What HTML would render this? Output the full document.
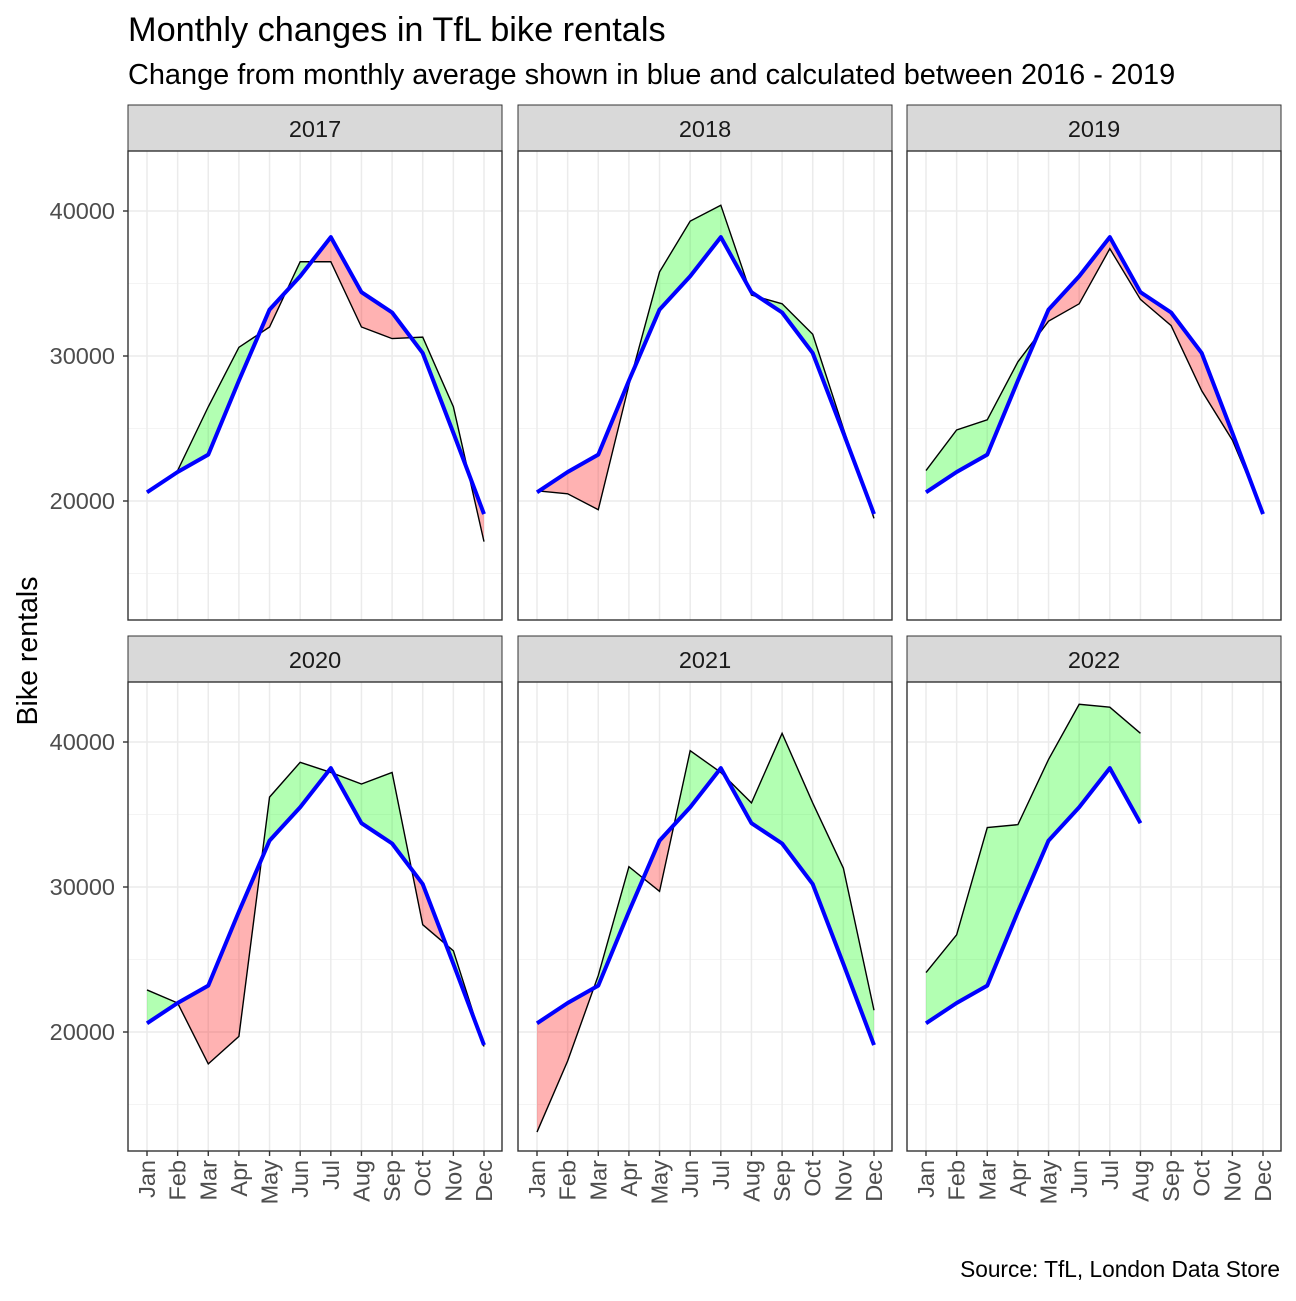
<!DOCTYPE html>
<html><head><meta charset="utf-8"><style>
body{margin:0;background:#fff}
svg{font-family:"Liberation Sans",Arial,sans-serif}
</style></head><body>
<svg id="chart" width="1296" height="1296" viewBox="0 0 1296 1296">
<text x="128" y="41" font-size="34.3" fill="#000">Monthly changes in TfL bike rentals</text>
<text x="128" y="84" font-size="28.9" fill="#000">Change from monthly average shown in blue and calculated between 2016 - 2019</text>
<text transform="translate(37,651) rotate(-90)" text-anchor="middle" font-size="28.5" fill="#000">Bike rentals</text>
<text x="1280" y="1277" text-anchor="end" font-size="22.7" fill="#000">Source: TfL, London Data Store</text>
<g id="panels"></g>
</svg>
<script>
const months = ["Jan","Feb","Mar","Apr","May","Jun","Jul","Aug","Sep","Oct","Nov","Dec"];
const years = ["2017","2018","2019","2020","2021","2022"];
const average = [20600,22000,23200,28300,33200,35500,38200,34400,33000,30200,24700,19100];
const y2017 = [20600,22100,26500,30600,32000,36500,36500,32000,31200,31300,26500,17200];
const y2018 = [20700,20500,19400,28000,35800,39300,40400,34200,33600,31500,25000,18800];
const y2019 = [22100,24900,25600,29600,32400,33600,37400,33900,32100,27600,24200,19200];
const y2020 = [22900,22000,17800,19700,36200,38600,37900,37100,37900,27400,25600,19000];
const y2021 = [13100,18000,23900,31400,29700,39400,37900,35800,40600,35800,31300,21500];
const y2022 = [24100,26700,34100,34300,38800,42600,42400,40600];
const yTicks = [20000,30000,40000];
const yMinor = [15000,25000,35000];

const series=[y2017,y2018,y2019,y2020,y2021,y2022];
const NS="http://www.w3.org/2000/svg";
const root=document.getElementById('panels');
const colX=[128,518,907], pw=374, rowY=[151,682], ph=469;
function mk(tag,attrs,parent){const e=document.createElementNS(NS,tag);for(const k in attrs)e.setAttribute(k,attrs[k]);parent.appendChild(e);return e;}
series.forEach((data,p)=>{
  const c=p%3,r=Math.floor(p/3);
  const x0=colX[c],y0=rowY[r];
  const g=mk('g',{},root);
  
  
  const xs=i=>x0+19+i*(337/11);
  const ys=v=>y0+60+(40000-v)*0.0145;
  const st=mk('rect',{x:x0,y:y0-46,width:pw,height:46,fill:'#d9d9d9',stroke:'#333','stroke-width':1},g);
  
  
  const stt=mk('text',{x:x0+pw/2,y:y0-14,'text-anchor':'middle','font-size':'23.5',fill:'#1a1a1a'},g);
  stt.textContent=years[p];
  
  
  yMinor.forEach(v=>mk('line',{x1:x0,x2:x0+pw,y1:ys(v),y2:ys(v),stroke:'#f4f4f4','stroke-width':1},g));
  yTicks.forEach(v=>mk('line',{x1:x0,x2:x0+pw,y1:ys(v),y2:ys(v),stroke:'#ebebeb','stroke-width':1.5},g));
  months.forEach((m,i)=>mk('line',{x1:xs(i),x2:xs(i),y1:y0,y2:y0+ph,stroke:'#ebebeb','stroke-width':1.5},g));
  for(let i=0;i<data.length-1;i++){
    const a0=data[i]-average[i],a1=data[i+1]-average[i+1];
    const col=d=>d>=0?'rgba(0,255,0,0.3)':'rgba(255,0,0,0.3)';
    if(a0*a1>=0){
      const q=mk('polygon',{points:`${xs(i)},${ys(data[i])} ${xs(i+1)},${ys(data[i+1])} ${xs(i+1)},${ys(average[i+1])} ${xs(i)},${ys(average[i])}`,fill:col(a0+a1)},g);
      
      
    } else {
      const t=a0/(a0-a1);
      const cx=xs(i+t), cy=ys(average[i]+t*(average[i+1]-average[i]));
      const q1=mk('polygon',{points:`${xs(i)},${ys(data[i])} ${cx},${cy} ${xs(i)},${ys(average[i])}`,fill:col(a0)},g);
      
      
      const q2=mk('polygon',{points:`${cx},${cy} ${xs(i+1)},${ys(data[i+1])} ${xs(i+1)},${ys(average[i+1])}`,fill:col(a1)},g);
      
      
    }
  }
  const act=mk('polyline',{points:data.map((v,i)=>xs(i)+','+ys(v)).join(' '),fill:'none',stroke:'#000','stroke-width':1.4},g);
  
  
  const avg=mk('polyline',{points:average.slice(0,data.length).map((v,i)=>xs(i)+','+ys(v)).join(' '),fill:'none',stroke:'#0000ff','stroke-width':4,'stroke-linejoin':'round'},g);
  
  
  mk('rect',{x:x0,y:y0,width:pw,height:ph,fill:'none',stroke:'#333','stroke-width':1.4},g);
  if(c===0){
    yTicks.forEach(v=>{
      mk('line',{x1:x0-5,x2:x0,y1:ys(v),y2:ys(v),stroke:'#333','stroke-width':1.4},g);
      const t=mk('text',{x:x0-13,y:ys(v)+8,'text-anchor':'end','font-size':'23.5',fill:'#4d4d4d'},g);
      t.textContent=v;
      
      
    });
  }
  if(r===1){
    months.forEach((m,i)=>{
      mk('line',{x1:xs(i),x2:xs(i),y1:y0+ph,y2:y0+ph+5,stroke:'#333','stroke-width':1.4},g);
      const t=mk('text',{transform:`translate(${xs(i)+8},${y0+ph+9}) rotate(-90)`,'text-anchor':'end','font-size':'23.5',fill:'#4d4d4d'},g);
      t.textContent=m;
      
      
    });
  }
});
</script>
</body></html>
